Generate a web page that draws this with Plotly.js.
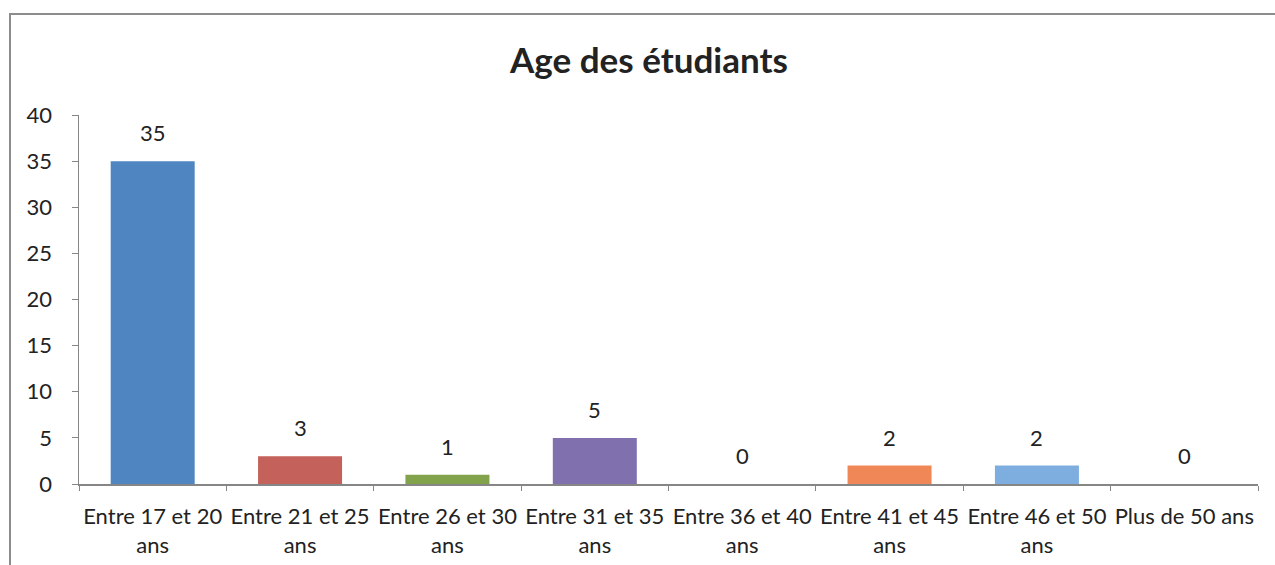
<!DOCTYPE html>
<html>
<head>
<meta charset="utf-8">
<script src="https://cdn.plot.ly/plotly-3.0.1.min.js"></script>
<style>
  html, body { margin: 0; padding: 0; background: #fff; }
  #wrap { position: relative; width: 1275px; height: 565px; }
  #chart { position: absolute; left: 0; top: 0; width: 1275px; height: 565px; }
  #frame { position: absolute; left: 9px; top: 13px; width: 1266px; height: 552px;
           border-top: 2px solid #8c8c8c; border-left: 2px solid #8c8c8c; pointer-events: none; }
</style>
</head>
<body>
<div id="wrap">
  <div id="chart"></div>
  <div id="frame"></div>
</div>
<script>
const categories = ["Entre 17 et 20 ans", "Entre 21 et 25 ans", "Entre 26 et 30 ans", "Entre 31 et 35 ans",
                    "Entre 36 et 40 ans", "Entre 41 et 45 ans", "Entre 46 et 50 ans", "Plus de 50 ans"];
const tickLabels = ["Entre 17 et 20<br>ans", "Entre 21 et 25<br>ans", "Entre 26 et 30<br>ans", "Entre 31 et 35<br>ans",
                    "Entre 36 et 40<br>ans", "Entre 41 et 45<br>ans", "Entre 46 et 50<br>ans", "Plus de 50 ans"];
const values = [35, 3, 1, 5, 0, 2, 2, 0];
const barColors = ["#4f86c2", "#c4615a", "#82a24c", "#8071ae", "#4bacc6", "#f08757", "#7eaee0", "#4f81bd"];
const titleText = "Age des étudiants";

const FONT = "Lato, 'Open Sans', sans-serif";
const TXT = "#222222";

const trace = {
  type: "bar",
  x: categories,
  y: values,
  marker: { color: barColors, line: { width: 0 } },
  hoverinfo: "none"
};

const annotations = categories.map((c, i) => ({
  x: c, y: values[i], xref: "x", yref: "y",
  text: String(values[i]), showarrow: false,
  yanchor: "bottom", yshift: 13,
  font: { family: FONT, size: 22, color: TXT }
}));

const layout = {
  width: 1275, height: 565,
  margin: { l: 79, r: 17, t: 115, b: 81, pad: 0 },
  paper_bgcolor: "#ffffff", plot_bgcolor: "#ffffff",
  showlegend: false,
  bargap: 0.43,
  title: {
    text: "<b>" + titleText + "</b>",
    xref: "container", yref: "container",
    x: 0.509, xanchor: "center", y: 0.893, yanchor: "middle",
    font: { family: FONT, size: 35, color: TXT }
  },
  xaxis: {
    type: "category",
    tickmode: "array", tickvals: categories, ticktext: tickLabels,
    tickson: "boundaries", tickangle: 0,
    ticks: "outside", ticklen: 5, tickcolor: "#868686", tickwidth: 1,
    showline: true, linecolor: "#868686", linewidth: 1.5,
    showgrid: false, zeroline: false,
    tickfont: { family: FONT, size: 22, color: TXT },
    ticklabelstandoff: 12,
    automargin: false,
    fixedrange: true
  },
  yaxis: {
    range: [0, 40], dtick: 5, tick0: 0,
    ticks: "outside", ticklen: 6, tickcolor: "#868686", tickwidth: 1,
    showline: true, linecolor: "#868686", linewidth: 1.5,
    showgrid: false, zeroline: false,
    tickfont: { family: FONT, size: 22, color: TXT },
    ticklabelstandoff: 15,
    automargin: false,
    fixedrange: true
  },
  annotations: annotations
};

Plotly.newPlot("chart", [trace], layout, { displayModeBar: false, staticPlot: true });
</script>
</body>
</html>
